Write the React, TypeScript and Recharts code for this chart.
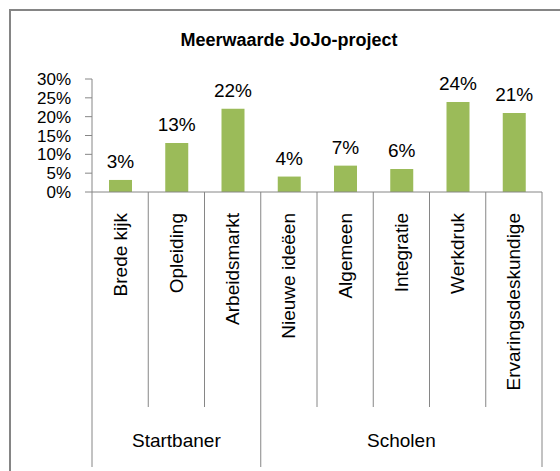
import { BarChart, Bar, XAxis, YAxis, LabelList } from 'recharts';

const categories = ['Brede kijk', 'Opleiding', 'Arbeidsmarkt', 'Nieuwe ideëen', 'Algemeen', 'Integratie', 'Werkdruk', 'Ervaringsdeskundige'];
const values = [3.2, 13, 22.1, 4.1, 7, 6.1, 23.9, 21];
const groups = [
    { name: 'Startbaner', start: 0, count: 3 },
    { name: 'Scholen', start: 3, count: 5 },
];
const yTicks = [0, 5, 10, 15, 20, 25, 30];

const data = categories.map((name, i) => ({ name, value: values[i] }));

const font = '"Liberation Sans", Arial, sans-serif';
const axisGray = '#868686';

function CategoryTick(props: any) {
    const { x, y, payload, index } = props;
    const half = payload.offset || 28;
    const group = groups.find(g => g.start === index);
    const isLast = index === categories.length - 1;
    return (
        <g>
            <line x1={x - half} y1={y} x2={x - half} y2={y + (group ? 275 : 215)} stroke={axisGray} />
            {isLast && <line x1={x + half} y1={y} x2={x + half} y2={y + 275} stroke={axisGray} />}
            <text
                x={x}
                y={y + 21}
                transform={`rotate(-90, ${x}, ${y + 21})`}
                textAnchor="end"
                dominantBaseline="central"
                fontSize={19}
                fill="#000"
            >
                {payload.value}
            </text>
            {group && (
                <text
                    x={x - half + group.count * half}
                    y={y + 248}
                    textAnchor="middle"
                    dominantBaseline="central"
                    fontSize={19}
                    fill="#000"
                >
                    {group.name}
                </text>
            )}
        </g>
    );
}

export default function App() {
    return (
        <div style={{ position: 'absolute', left: 0, top: 0, width: 560, height: 471, overflow: 'hidden', background: '#fff', fontFamily: font }}>
            <div style={{ position: 'absolute', left: 9, top: 9, width: 600, height: 500, border: '2px solid #858585' }} />
            <div style={{ position: 'absolute', left: 0, top: 30, width: 578, textAlign: 'center', fontWeight: 'bold', fontSize: 18, color: '#000' }}>
                Meerwaarde JoJo-project
            </div>
            <div style={{ position: 'absolute', left: 0, top: 0 }}>
                <BarChart width={560} height={471} data={data} margin={{ top: 79, right: 18, left: 10, bottom: 0 }}>
                    <YAxis
                        width={82}
                        domain={[0, 30]}
                        ticks={yTicks}
                        interval={0}
                        tickFormatter={(v: number) => `${v}%`}
                        tickSize={7}
                        tickMargin={14}
                        stroke={axisGray}
                        tick={{ fill: '#000', fontSize: 17, fontFamily: font }}
                    />
                    <XAxis
                        dataKey="name"
                        height={279}
                        interval={0}
                        tickSize={0}
                        tickMargin={0}
                        tickLine={false}
                        stroke={axisGray}
                        tick={<CategoryTick />}
                    />
                    <Bar dataKey="value" fill="#9BBB59" barSize={23} isAnimationActive={false}>
                        <LabelList
                            dataKey="value"
                            position="top"
                            offset={12}
                            formatter={(v: any) => `${Math.round(Number(v))}%`}
                            fill="#000"
                            fontSize={19}
                            fontFamily={font}
                        />
                    </Bar>
                </BarChart>
            </div>
        </div>
    );
}
